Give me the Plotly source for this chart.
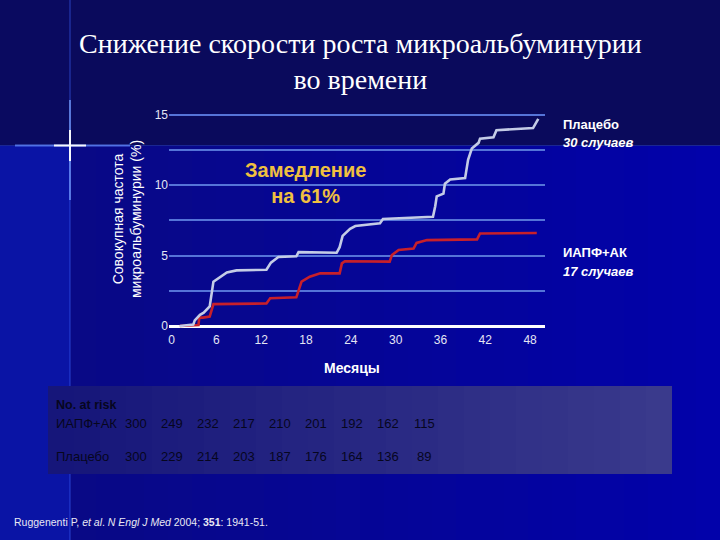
import plotly.graph_objects as go

# ---------------- data ----------------
months_placebo = [1.1, 2.9, 3.1, 3.8, 4.3, 5.1, 5.6, 6.0, 7.4, 8.7, 12.7, 13.3, 14.3, 16.7, 17.0,
                  22.1, 22.5, 22.9, 23.9, 24.6, 27.9, 28.3, 35.0, 35.3, 35.5, 36.4, 36.6, 37.3,
                  39.3, 39.7, 40.2, 41.1, 41.3, 43.1, 43.5, 48.4, 48.9, 49.1]
placebo = [0, 0.1, 0.4, 0.8, 0.95, 1.4, 3.15, 3.3, 3.8, 3.95, 4.0, 4.5, 4.9, 4.95, 5.25,
           5.2, 5.6, 6.4, 6.9, 7.1, 7.3, 7.6, 7.75, 8.5, 9.2, 9.4, 10.1, 10.4,
           10.5, 11.8, 12.6, 13.0, 13.3, 13.4, 13.9, 14.05, 14.5, 14.7]

months_acei = [1.1, 3.6, 3.7, 4.2, 5.1, 5.5, 5.6, 12.7, 13.2, 16.7, 17.0, 17.4, 18.5, 19.9,
               22.5, 22.8, 23.2, 29.2, 29.5, 30.4, 32.4, 32.8, 34.2, 40.9, 41.3, 48.9]
acei = [0, 0.07, 0.6, 0.6, 0.67, 1.37, 1.56, 1.6, 1.97, 2.04, 2.6, 3.15, 3.5, 3.74,
        3.74, 4.45, 4.6, 4.57, 5.04, 5.4, 5.5, 5.9, 6.1, 6.15, 6.57, 6.6]

x_ticks = [0, 6, 12, 18, 24, 30, 36, 42, 48]
y_ticks = [0, 2.5, 5, 7.5, 10, 12.5, 15]
y_ticktext = ["0", "", "5", "", "10", "", "15"]

risk_title = "No. at risk"
risk_label_acei = "ИАПФ+АК"
risk_label_placebo = "Плацебо"
risk_acei = [300, 249, 232, 217, 210, 201, 192, 162, 115]
risk_placebo = [300, 229, 214, 203, 187, 176, 164, 136, 89]

title_text = "Снижение скорости роста микроальбуминурии<br>во времени"
ytitle = "Совокупная частота<br>микроальбуминурии (%)"
xtitle = "Месяцы"

# ---------------- layout geometry (pixels) ----------------
W, H = 720, 540
L, R, T, B = 169, 545, 113, 331
PW, PH = R - L, B - T

def px(xp):
    return (xp - L) / PW

def py(yp):
    return (B - yp) / PH

SANS = "Liberation Sans, Arial, sans-serif"
SERIF = "Liberation Serif, Times New Roman, serif"

fig = go.Figure()
fig.add_trace(go.Scatter(x=months_acei, y=acei, mode="lines",
                         line=dict(color="#c8202a", width=2.6), hoverinfo="skip", showlegend=False))
fig.add_trace(go.Scatter(x=months_placebo, y=placebo, mode="lines",
                         line=dict(color="#c4cce6", width=2.6), hoverinfo="skip", showlegend=False))

shapes = []
# background: lower region gradient
n = 30
for i in range(n):
    x0 = i * W / n
    x1 = (i + 1) * W / n + 1
    t = i / (n - 1)
    r = int(10 - 8 * t)
    g = int(10 - 8 * t)
    b = int(130 + 40 * t)
    shapes.append(dict(type="rect", xref="paper", yref="paper", layer="below",
                       x0=px(x0), x1=px(x1), y0=py(H), y1=py(146),
                       fillcolor=f"rgb({r},{g},{b})", line=dict(width=0)))
# left strip
shapes.append(dict(type="rect", xref="paper", yref="paper", layer="below",
                   x0=px(0), x1=px(70), y0=py(H), y1=py(146),
                   fillcolor="rgb(10,20,165)", line=dict(width=0)))
shapes.append(dict(type="rect", xref="paper", yref="paper", layer="below",
                   x0=px(0), x1=px(70), y0=py(146), y1=py(0),
                   fillcolor="rgb(10,10,96)", line=dict(width=0)))
# sparkle lines
shapes.append(dict(type="line", xref="paper", yref="paper", layer="below",
                   x0=px(70), x1=px(70), y0=py(0), y1=py(H),
                   line=dict(color="rgba(60,100,255,0.4)", width=1.5)))
shapes.append(dict(type="line", xref="paper", yref="paper", layer="below",
                   x0=px(0), x1=px(W), y0=py(145.5), y1=py(145.5),
                   line=dict(color="rgba(50,80,230,0.4)", width=1.2)))
shapes.append(dict(type="line", xref="paper", yref="paper", layer="below",
                   x0=px(15), x1=px(130), y0=py(145.5), y1=py(145.5),
                   line=dict(color="rgba(100,140,255,0.75)", width=1.8)))
shapes.append(dict(type="line", xref="paper", yref="paper", layer="below",
                   x0=px(70), x1=px(70), y0=py(100), y1=py(200),
                   line=dict(color="rgba(120,160,255,0.75)", width=1.8)))
shapes.append(dict(type="line", xref="paper", yref="paper", layer="below",
                   x0=px(54), x1=px(86), y0=py(145.5), y1=py(145.5),
                   line=dict(color="rgba(255,255,255,0.95)", width=2)))
shapes.append(dict(type="line", xref="paper", yref="paper", layer="below",
                   x0=px(70), x1=px(70), y0=py(130), y1=py(161),
                   line=dict(color="rgba(255,255,255,0.95)", width=2)))
# risk table box gradient
bx0, bx1, by0, by1 = 48, 672, 386, 474
m = 24
for i in range(m):
    x0 = bx0 + i * (bx1 - bx0) / m
    x1 = bx0 + (i + 1) * (bx1 - bx0) / m + (0.6 if i < m - 1 else 0)
    t = i / (m - 1)
    r = int(22 + 36 * t)
    g = int(22 + 36 * t)
    b = int(122 + 18 * t)
    shapes.append(dict(type="rect", xref="paper", yref="paper", layer="below",
                       x0=px(x0), x1=px(x1), y0=py(by1), y1=py(by0),
                       fillcolor=f"rgb({r},{g},{b})", line=dict(width=0)))

annotations = []
def ann(text, xp, yp, size, color="white", family=SANS, xanchor="center", yanchor="middle", angle=0, align="center"):
    annotations.append(dict(text=text, x=px(xp), y=py(yp), xref="paper", yref="paper",
                            showarrow=False, xanchor=xanchor, yanchor=yanchor, textangle=angle,
                            align=align, font=dict(size=size, color=color, family=family)))

ann(title_text, 360, 62, 28, family=SERIF)
ann(ytitle, 127, 219, 14, angle=-90)
ann("<b>" + xtitle + "</b>", 352, 368, 14)
ann("<b>Замедление<br>на 61%</b>", 305, 183, 20, color="#f0c040")
ann("<b>Плацебо</b>", 561, 124, 13, xanchor="left")
ann("<b><i>30 случаев</i></b>", 561, 142, 13, xanchor="left")
ann("<b>ИАПФ+АК</b>", 561, 253, 13, xanchor="left")
ann("<b><i>17 случаев</i></b>", 561, 271, 13, xanchor="left")

tc = "#06061e"
NARROW = "Liberation Sans Narrow, Liberation Sans, Arial, sans-serif"
ann("<b>" + risk_title + "</b>", 54, 405, 12.5, color=tc, xanchor="left", family=NARROW)
ann(risk_label_acei, 54, 423, 13, color=tc, xanchor="left", family=NARROW)
ann(risk_label_placebo, 54, 456, 13, color=tc, xanchor="left", family=NARROW)
col_x = [136, 172, 208, 244, 280, 316, 352, 388, 424]
for cx, a, p in zip(col_x, risk_acei, risk_placebo):
    ann(str(a), cx, 423, 13, color=tc, family=NARROW)
    ann(str(p), cx, 456, 13, color=tc, family=NARROW)

ann("Ruggenenti P, <i>et al</i>. <i>N Engl J Med</i> 2004; <b>351</b>: 1941-51.", 12, 522, 10.5,
    color="#e8e8f4", xanchor="left")

fig.update_layout(
    width=W, height=H,
    margin=dict(l=L, r=W - R, t=T, b=H - B, pad=0),
    paper_bgcolor="rgb(10,10,92)",
    plot_bgcolor="rgba(0,0,0,0)",
    shapes=shapes,
    annotations=annotations,
    showlegend=False,
    xaxis=dict(range=[-0.35, 50], tickvals=x_ticks, showgrid=False, zeroline=False,
               showline=False, ticks="", tickfont=dict(size=12, color="#e4e6f4", family=SANS),
               fixedrange=True),
    yaxis=dict(range=[-0.35, 15.12], tickvals=y_ticks, ticktext=y_ticktext,
               showgrid=True, gridcolor="#5574d8", gridwidth=1.5,
               zeroline=True, zerolinecolor="#ffffff", zerolinewidth=3,
               showline=False, ticks="", tickfont=dict(size=12, color="#e4e6f4", family=SANS),
               fixedrange=True),
)

fig.write_html("out.html")
